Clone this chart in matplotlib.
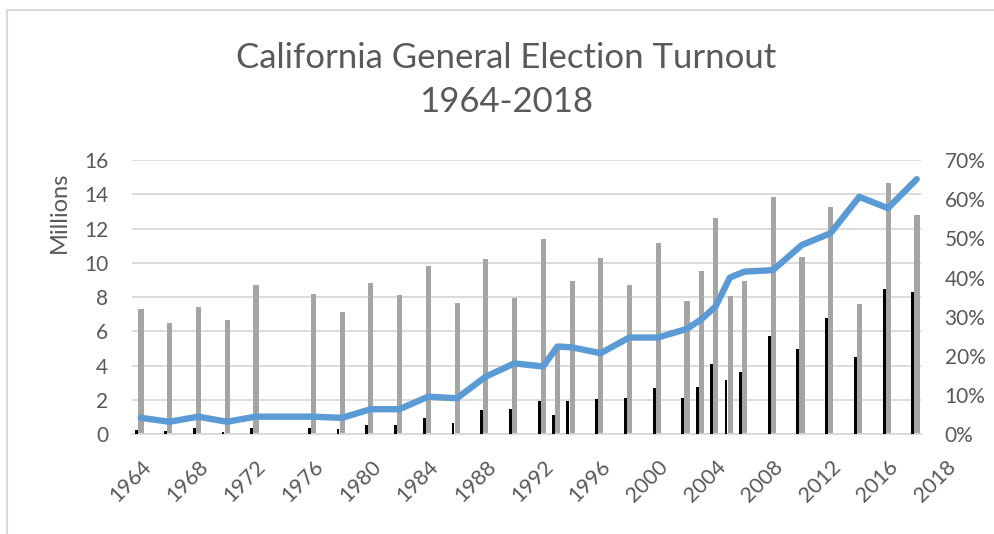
import matplotlib
matplotlib.use("Agg")
import matplotlib.pyplot as plt
from matplotlib.lines import Line2D

plt.rcParams['font.family'] = ['Lato', 'DejaVu Sans']

years = [1964, 1966, 1968, 1970, 1972, 1976, 1978, 1980, 1982, 1984, 1986, 1988,
         1990, 1992, 1993, 1994, 1996, 1998, 2000, 2002, 2003, 2004, 2005, 2006,
         2008, 2010, 2012, 2014, 2016, 2018]
total_votes = [7.31, 6.51, 7.41, 6.67, 8.69, 8.20, 7.15, 8.85, 8.13, 9.82, 7.64, 10.21,
               7.97, 11.41, 5.2, 8.94, 10.30, 8.69, 11.18, 7.80, 9.51, 12.62, 8.05, 8.94,
               13.83, 10.36, 13.26, 7.58, 14.64, 12.78]
mail_votes = [0.25, 0.17, 0.35, 0.15, 0.35, 0.35, 0.29, 0.52, 0.52, 0.93, 0.68, 1.40,
              1.48, 1.96, 1.14, 1.96, 2.04, 2.12, 2.68, 2.12, 2.76, 4.12, 3.17, 3.65,
              5.73, 5.00, 6.77, 4.53, 8.46, 8.30]
mail_pct = [4.2, 3.2, 4.5, 3.2, 4.5, 4.5, 4.2, 6.4, 6.4, 9.6, 9.2, 14.7,
            18.1, 17.3, 22.4, 22.2, 20.7, 24.7, 24.7, 26.9, 29.3, 32.6, 40.0, 41.5,
            41.9, 48.3, 51.3, 60.6, 57.7, 65.1]
tick_years = [1964, 1968, 1972, 1976, 1980, 1984, 1988, 1992, 1996, 2000, 2004, 2008, 2012, 2016]
tick_labels = [str(y) for y in tick_years]
extra_tick_pos = 2020
extra_tick_label = "2018"
left_ticks = list(range(0, 17, 2))
right_ticks = list(range(0, 71, 10))

TXT = '#595959'
GRID = '#d9d9d9'
GRAY = '#a5a5a5'
BLUE = '#5b9bd5'
FS = 15

W, H = 994, 534
fig = plt.figure(figsize=(W / 100, H / 100), dpi=100)
ax = fig.add_axes([131.7 / W, 1 - 434.3 / H, (921 - 131.7) / W, (434.3 - 160) / H])

ax.bar([y + 0.02 for y in years], total_votes, width=0.36, color=GRAY, zorder=2)
ax.bar([y - 0.27 for y in years], mail_votes, width=0.2, color='black', zorder=3)

ax.set_xlim(1963.374, 2018.30)
ax.set_ylim(0, 16)
ax.set_yticks(left_ticks)
ax.set_yticklabels([str(v) for v in left_ticks])
ax.set_xticks(tick_years)
ax.set_xticklabels(tick_labels, rotation=45, ha='right', va='top', rotation_mode='anchor')
ax.tick_params(axis='both', length=0, labelsize=FS, labelcolor=TXT)
ax.tick_params(axis='y', pad=17)
ax.tick_params(axis='x', labelsize=FS + 0.5, pad=16)
ax.grid(axis='y', color=GRID, linewidth=1.3, zorder=0)
ax.set_axisbelow(True)
for s in ['left', 'right', 'top']:
    ax.spines[s].set_visible(False)
ax.spines['bottom'].set_color(GRID)
ax.spines['bottom'].set_linewidth(1.3)

ax.annotate(extra_tick_label, xy=(extra_tick_pos, 0), xycoords=('data', 'axes fraction'),
            xytext=(0, -16), textcoords='offset points', rotation=45, ha='right', va='top',
            rotation_mode='anchor', fontsize=FS + 0.5, color=TXT, annotation_clip=False)

ax2 = ax.twinx()
ax2.plot(years, mail_pct, color=BLUE, linewidth=4.6, solid_capstyle='round',
         solid_joinstyle='round', zorder=5)
ax2.set_ylim(0, 70)
ax2.set_yticks(right_ticks)
ax2.set_yticklabels([f"{v}%" for v in right_ticks])
ax2.tick_params(axis='y', length=0, labelsize=FS, labelcolor=TXT, pad=17)
for s in ['left', 'right', 'top', 'bottom']:
    ax2.spines[s].set_visible(False)

fig.text(506 / W, 1 - 58 / H, "California General Election Turnout", ha='center', va='center',
         fontsize=25, color=TXT)
fig.text(506 / W, 1 - 102 / H, "1964-2018", ha='center', va='center', fontsize=25, color=TXT)
fig.text(59 / W, 1 - 212 / H, "Millions", rotation=90, ha='center', va='center',
         fontsize=17, color=TXT)

fig.add_artist(Line2D([7 / W, 7 / W], [0, 1 - 10 / H], transform=fig.transFigure,
                      color=GRID, linewidth=1.5))
fig.add_artist(Line2D([7 / W, 1], [1 - 10 / H, 1 - 10 / H], transform=fig.transFigure,
                      color=GRID, linewidth=1.5))

fig.savefig("out.png", dpi=100)
